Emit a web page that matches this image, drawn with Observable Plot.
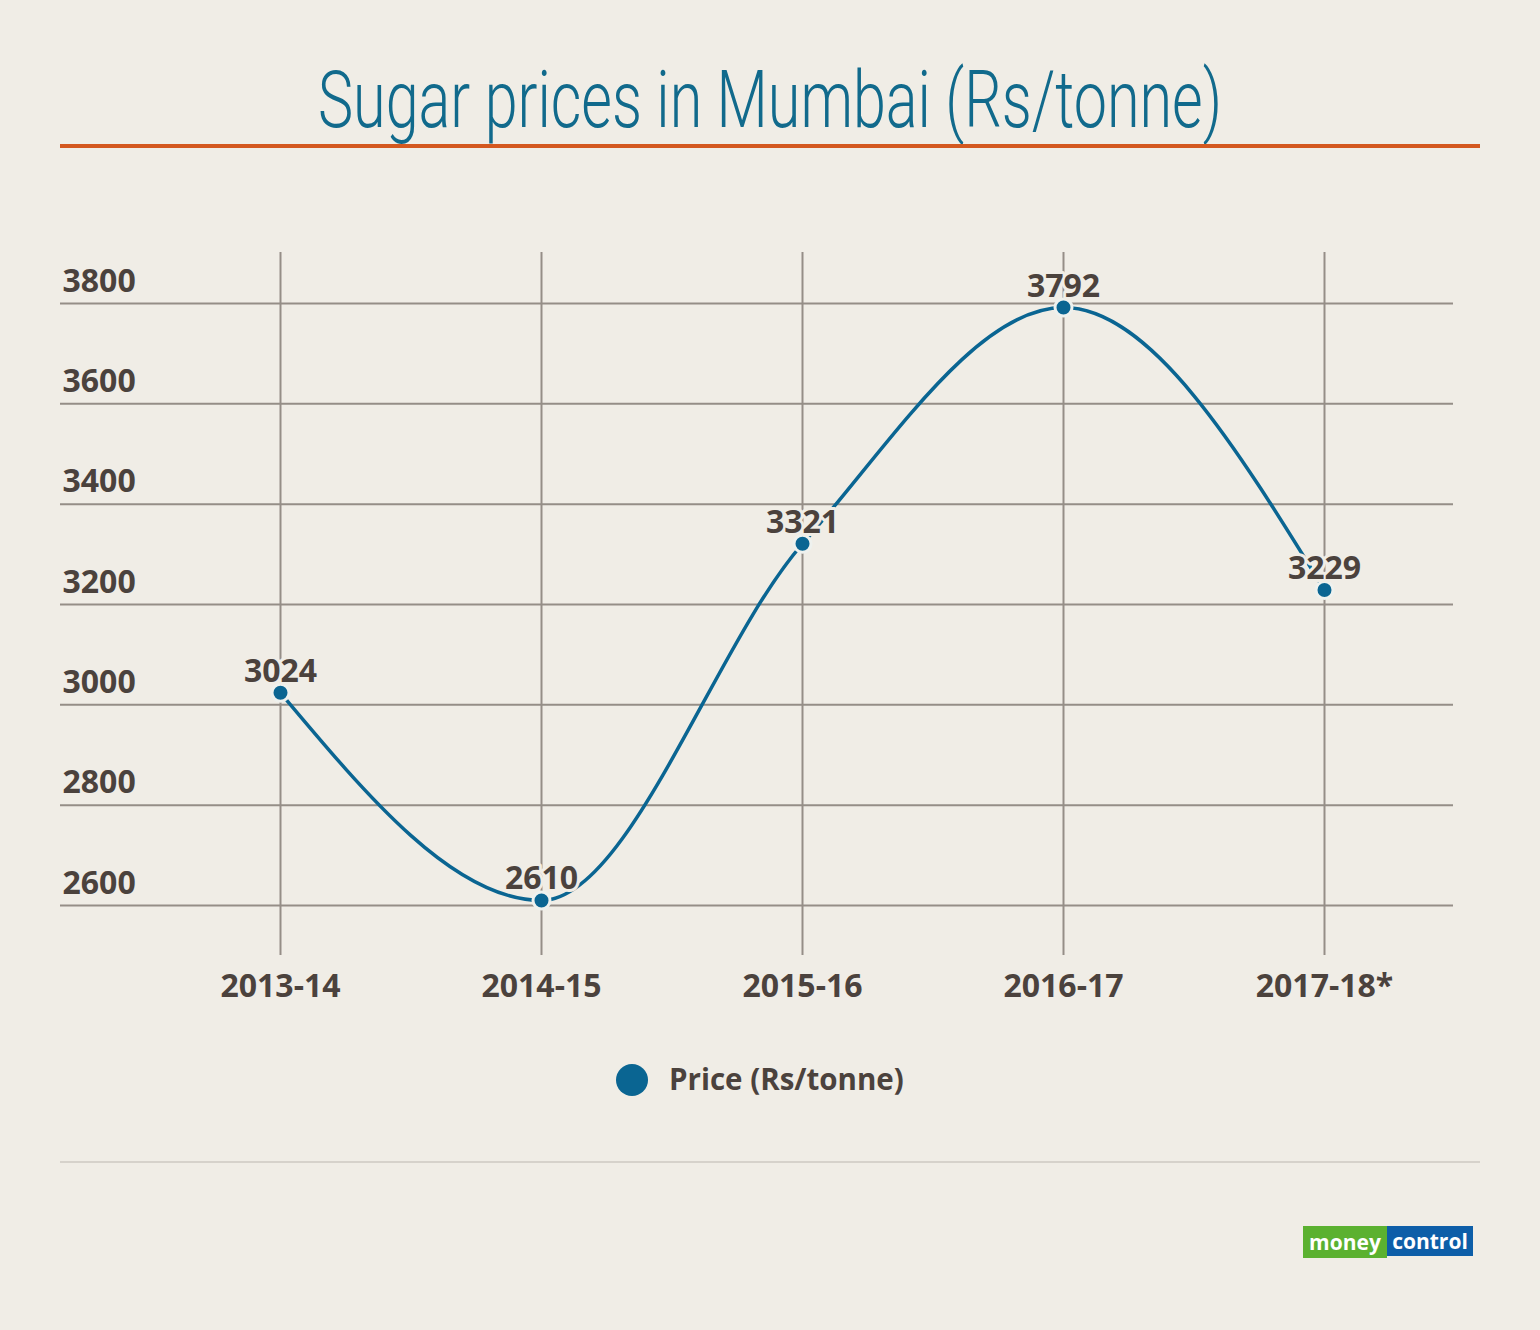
<!DOCTYPE html>
<html><head><meta charset="utf-8">
<script src="https://cdn.jsdelivr.net/npm/d3@7"></script>
<script src="https://cdn.jsdelivr.net/npm/@observablehq/plot@0.6"></script>
<style>
html,body{margin:0;padding:0;background:#f0ede6;}
#page{position:relative;width:1540px;height:1330px;background:#f0ede6;overflow:hidden;font-family:"Open Sans",sans-serif;}
#title{position:absolute;left:0;width:1540px;top:61px;text-align:center;font-family:Roboto,sans-serif;font-weight:300;font-size:79px;line-height:1;color:#116a8c;white-space:nowrap}
#title span{display:inline-block;transform-origin:center;}
#rule{position:absolute;left:60px;top:144px;width:1420px;height:4px;background:#d4581f}
#chart{position:absolute;left:0;top:200px}
#legend{position:absolute;left:0;top:1064px;height:32px;}
#legend .sw{position:absolute;left:616px;top:0;width:32px;height:32px;border-radius:50%;background:#0a6592}
#legend .lb{position:absolute;left:669px;top:0px;font-size:29.5px;font-weight:700;line-height:1;color:#4b423d;white-space:nowrap}
#foot{position:absolute;left:60px;top:1161px;width:1420px;height:2px;background:#d6d2cb}
#logo{position:absolute;left:1303px;top:1226px;height:32px;display:flex;font-family:"Open Sans",sans-serif;font-weight:700;font-size:21px;line-height:32px;color:#fff}
#logo .m{background:#5bb130;width:84px;text-align:center}
#logo .c{background:#0d5ea8;width:86px;text-align:center;height:30px;line-height:30px}
</style>
</head>
<body>
<div id="page">
  <div id="title"><span>Sugar prices in Mumbai (Rs/tonne)</span></div>
  <div id="rule"></div>
  <div id="chart"></div>
  <div id="legend"><div class="sw"></div><div class="lb">Price (Rs/tonne)</div></div>
  <div id="foot"></div>
  <div id="logo"><span class="m">money</span><span class="c">control</span></div>
</div>
<script>
const years = ["2013-14", "2014-15", "2015-16", "2016-17", "2017-18*"];
const prices = [3024, 2610, 3321, 3792, 3229];
const yTicks = [2600, 2800, 3000, 3200, 3400, 3600, 3800];

const data = years.map((year, i) => ({year, price: prices[i]}));
const lineColor = "#0a6592";
const textColor = "#4b423d";
const bg = "#f0ede6";
const gridColor = "#958e87";

const chart = Plot.plot({
  width: 1540,
  height: 830,
  marginLeft: 60,
  marginRight: 87,
  marginTop: 52,
  marginBottom: 75,
  style: {background: "transparent", fontFamily: "'Open Sans', sans-serif", fontSize: "32px", fontWeight: 700, color: textColor, overflow: "visible"},
  x: {type: "point", domain: years, range: [280, 1324], padding: 0},
  y: {domain: [2600, 3800], range: [705, 103]},
  marks: [
    Plot.gridY(yTicks, {stroke: gridColor, strokeWidth: 2, strokeOpacity: 1}),
    Plot.gridX(years, {stroke: gridColor, strokeWidth: 2, strokeOpacity: 1}),
    Plot.axisY(yTicks, {anchor: "left", tickSize: 0, tickPadding: 0, textAnchor: "start", dx: 2, dy: -12, lineAnchor: "bottom", label: null, tickFormat: d3.format("d")}),
    Plot.axisX(years, {anchor: "bottom", tickSize: 0, tickPadding: 19, label: null}),
    Plot.line(data, {x: "year", y: "price", curve: "monotone-x", stroke: lineColor, strokeWidth: 3.5}),
    Plot.dot(data, {x: "year", y: "price", r: 8.5, fill: lineColor, stroke: "#eef1ee", strokeWidth: 3}),
    Plot.text(data, {x: "year", y: "price", text: d => String(d.price), dy: -11, lineAnchor: "bottom", fill: textColor, stroke: bg, strokeWidth: 6, fontSize: 32, fontWeight: 700})
  ]
});
document.getElementById("chart").appendChild(chart);

function fitTitle() {
  const s = document.querySelector("#title span");
  s.style.transform = "none";
  const w = s.getBoundingClientRect().width;
  s.style.transform = `scaleX(${904 / w})`;
}
if (document.fonts && document.fonts.ready) document.fonts.ready.then(fitTitle);
fitTitle();
</script>
</body></html>
